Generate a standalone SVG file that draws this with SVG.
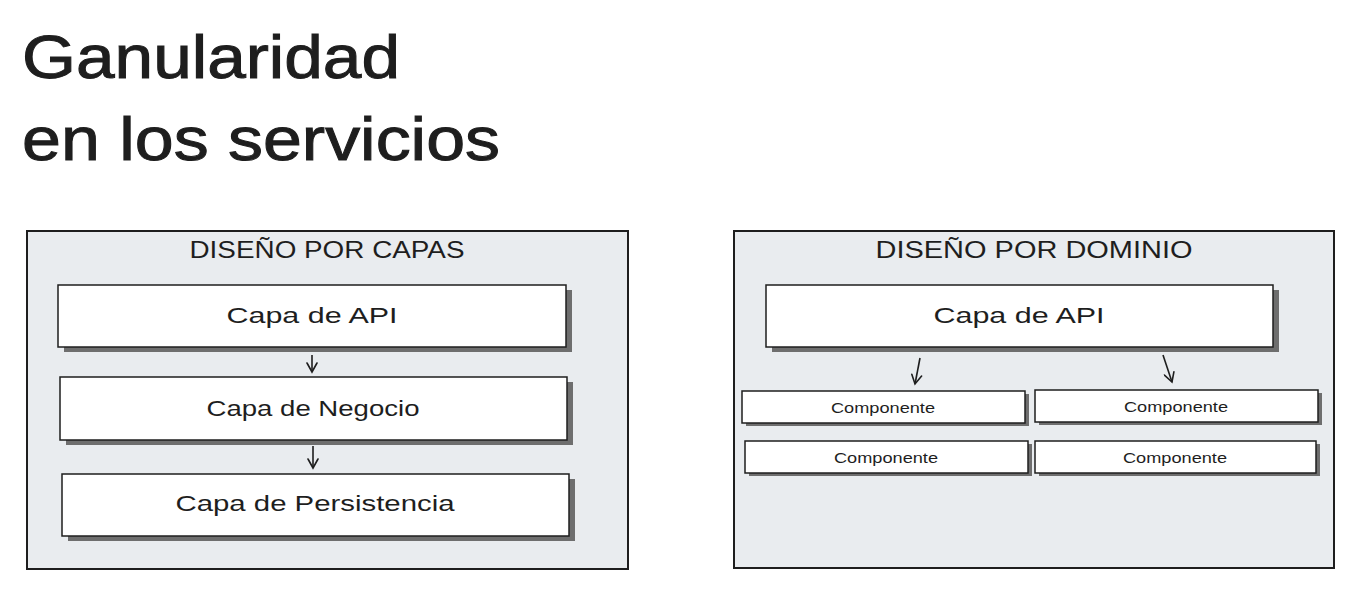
<svg xmlns="http://www.w3.org/2000/svg" width="1361" height="604" viewBox="0 0 1361 604">
<defs>
<style>
.panel{fill:#e9ecef;stroke:#1e1e1e;stroke-width:2}
.box{fill:#ffffff;stroke:#1e1e1e;stroke-width:1.5}
.shadow{fill:#6e6e6e}
.t{font-family:"Liberation Sans",Arial,sans-serif;fill:#1e1e1e;text-anchor:middle}
.title{font-family:"Liberation Sans",Arial,sans-serif;fill:#1e1e1e;font-size:62px;stroke:#1e1e1e;stroke-width:1}
.head{font-size:23px}
.lbl{font-size:22px}
.comp{font-size:15px}
.conn{stroke:#1e1e1e;stroke-width:1.6;fill:none}
</style>
<marker id="ah" viewBox="0 0 12 12" refX="10" refY="6" markerWidth="12" markerHeight="12" markerUnits="userSpaceOnUse" orient="auto">
<path d="M1,1 L10,6 L1,11" fill="none" stroke="#1e1e1e" stroke-width="1.6" stroke-linecap="round"/>
</marker>
</defs>
<rect width="1361" height="604" fill="#ffffff"/>
<g id="title">
<text class="title" x="22" y="78" textLength="378" lengthAdjust="spacingAndGlyphs">Ganularidad</text>
<text class="title" x="22" y="160" textLength="478" lengthAdjust="spacingAndGlyphs">en los servicios</text>
</g>
<g id="panel-capas">
<rect class="panel" x="27" y="231" width="601" height="338"/>
<text class="t head" x="327" y="258" textLength="275" lengthAdjust="spacingAndGlyphs">DISEÑO POR CAPAS</text>
</g>
<g id="capa-api-1">
<rect class="shadow" x="64" y="290" width="508" height="62"/>
<rect class="box" x="58" y="285" width="508" height="62"/>
<text class="t lbl" x="312" y="323" textLength="171" lengthAdjust="spacingAndGlyphs">Capa de API</text>
</g>
<g id="capa-negocio">
<rect class="shadow" x="66" y="382" width="507" height="63"/>
<rect class="box" x="60" y="377" width="507" height="63"/>
<text class="t lbl" x="313" y="416" textLength="213" lengthAdjust="spacingAndGlyphs">Capa de Negocio</text>
</g>
<g id="capa-persistencia">
<rect class="shadow" x="68" y="479" width="507" height="62"/>
<rect class="box" x="62" y="474" width="507" height="62"/>
<text class="t lbl" x="315" y="511" textLength="279" lengthAdjust="spacingAndGlyphs">Capa de Persistencia</text>
</g>
<g id="panel-dominio">
<rect class="panel" x="734" y="231" width="600" height="337"/>
<text class="t head" x="1034" y="258" textLength="317" lengthAdjust="spacingAndGlyphs">DISEÑO POR DOMINIO</text>
</g>
<g id="capa-api-2">
<rect class="shadow" x="772" y="290" width="507" height="62"/>
<rect class="box" x="766" y="285" width="507" height="62"/>
<text class="t lbl" x="1019" y="323" textLength="171" lengthAdjust="spacingAndGlyphs">Capa de API</text>
</g>
<g id="componente-1">
<rect class="shadow" x="746" y="394" width="283" height="32"/>
<rect class="box" x="742" y="391" width="283" height="32"/>
<text class="t comp" x="883" y="413" textLength="104" lengthAdjust="spacingAndGlyphs">Componente</text>
</g>
<g id="componente-2">
<rect class="shadow" x="1039" y="393" width="283" height="32"/>
<rect class="box" x="1035" y="390" width="283" height="32"/>
<text class="t comp" x="1176" y="412" textLength="104" lengthAdjust="spacingAndGlyphs">Componente</text>
</g>
<g id="componente-3">
<rect class="shadow" x="749" y="444" width="283" height="32"/>
<rect class="box" x="745" y="441" width="283" height="32"/>
<text class="t comp" x="886" y="463" textLength="104" lengthAdjust="spacingAndGlyphs">Componente</text>
</g>
<g id="componente-4">
<rect class="shadow" x="1039" y="444" width="281" height="32"/>
<rect class="box" x="1035" y="441" width="281" height="32"/>
<text class="t comp" x="1175" y="463" textLength="104" lengthAdjust="spacingAndGlyphs">Componente</text>
</g>
<g id="connectors">
<line class="conn" x1="312" y1="355" x2="312" y2="372" marker-end="url(#ah)"/>
<line class="conn" x1="313" y1="446" x2="313" y2="468" marker-end="url(#ah)"/>
<line class="conn" x1="920" y1="358" x2="915" y2="384" marker-end="url(#ah)"/>
<line class="conn" x1="1163" y1="355" x2="1172" y2="382" marker-end="url(#ah)"/>
</g>
</svg>
